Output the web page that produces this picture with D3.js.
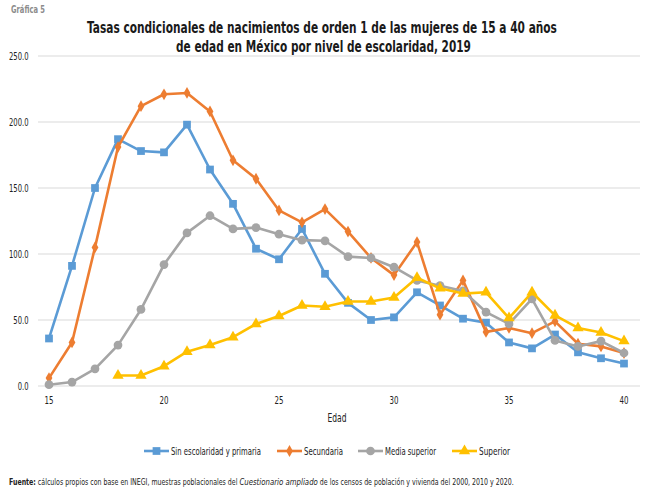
<!DOCTYPE html>
<html><head><meta charset="utf-8">
<script src="https://cdn.jsdelivr.net/npm/d3@7"></script>
<style>
body{margin:0;background:#fff;}
svg{display:block;font-family:"DejaVu Sans Condensed","Liberation Sans Narrow","Liberation Sans",sans-serif;}
</style></head>
<body><svg id="c" width="650" height="488"></svg>
<script>
const ages = d3.range(15, 41);
const yTicks = [0, 50, 100, 150, 200, 250];
const xTicks = [15, 20, 25, 30, 35, 40];
const seriesNames = ["Sin escolaridad y primaria", "Secundaria", "Media superior", "Superior"];
const sinEscolaridad = [36, 91, 150, 187, 178, 177, 198, 164, 138, 104, 96, 119, 85, 63, 50, 52, 71, 61, 51, 48, 33, 28.5, 39, 25.5, 21, 17];
const secundaria = [6, 33, 105, 181, 212, 221, 222, 208, 171, 157, 133, 124, 134, 117, 97, 84, 109, 54, 80, 41, 44, 40, 49, 32, 30, 25];
const mediaSuperior = [1, 3, 13, 31, 58, 92, 116, 129, 119, 120, 115, 110.5, 110, 98, 97, 90, 80, 76, 72, 56, 47, 66, 34.5, 30, 34, 25];
const superior = [null, null, null, 8, 8, 15, 26, 31, 37, 47, 53, 61, 60, 64, 64, 67, 82, 74, 70, 71, 51.5, 71, 53.5, 44, 40.5, 34];
const colors = ["#5B9BD5", "#ED7D31", "#A5A5A5", "#FFC000"];
const symbols = [d3.symbolSquare, d3.symbolDiamond, d3.symbolCircle, d3.symbolTriangle];
const symSizes = [60, 40, 60, 55];

const svg = d3.select("#c");
const x = d3.scaleLinear().domain([15, 40]).range([49, 624]);
const y = d3.scaleLinear().domain([0, 250]).range([386, 56]);

// text helper: places text at (px,py) and squeezes it horizontally to a target width
function fitText(parent, px, py, anchor, width, size, build) {
  const g = parent.append("g").attr("transform", `translate(${px},${py})`);
  const t = g.append("text").attr("text-anchor", anchor).attr("font-size", size);
  build(t);
  const w = t.node().getComputedTextLength();
  if (w > 0) g.attr("transform", `translate(${px},${py}) scale(${width / w},1)`);
  return t;
}

fitText(svg, 11, 13, "start", 34, 11, t => t.attr("fill", "#8c8c8c").attr("font-weight", "bold").text("Gráfica 5"));
fitText(svg, 322, 33, "middle", 470, 16, t => t.attr("font-weight", "bold").attr("fill", "#1a1a1a")
  .text("Tasas condicionales de nacimientos de orden 1 de las mujeres de 15 a 40 años"));
fitText(svg, 323.5, 51.5, "middle", 295, 16, t => t.attr("font-weight", "bold").attr("fill", "#1a1a1a")
  .text("de edad en México por nivel de escolaridad, 2019"));

// grid
svg.append("g").selectAll("line").data(yTicks).join("line")
  .attr("x1", 38).attr("x2", 640).attr("y1", d => y(d)).attr("y2", d => y(d))
  .attr("stroke", "#d9d9d9").attr("stroke-width", 1);

// y tick labels
const fmt = d3.format(".1f");
yTicks.forEach(v => {
  const s = fmt(v);
  const w = (s.length - 1) * 4.4 + 2;
  fitText(svg, 28.5, y(v) + 3.8, "end", w, 11, t => t.attr("fill", "#222").text(s));
});
// x tick labels
xTicks.forEach(v => {
  const s = String(v);
  fitText(svg, x(v), 403.5, "middle", s.length * 4.5, 11, t => t.attr("fill", "#222").text(s));
});
fitText(svg, 337, 421.5, "middle", 19, 12, t => t.attr("fill", "#222").text("Edad"));

const allSeries = [sinEscolaridad, secundaria, mediaSuperior, superior];
const line = d3.line().defined(d => d.v != null).x(d => x(d.a)).y(d => y(d.v));
allSeries.forEach((s, i) => {
  const pts = ages.map((a, j) => ({a: a, v: s[j]}));
  svg.append("path").datum(pts).attr("d", line).attr("fill", "none")
    .attr("stroke", colors[i]).attr("stroke-width", 2.6).attr("stroke-linejoin", "round");
  svg.append("g").selectAll("path").data(pts.filter(d => d.v != null)).join("path")
    .attr("transform", d => `translate(${x(d.a)},${y(d.v)})`)
    .attr("d", d3.symbol().type(symbols[i]).size(symSizes[i]))
    .attr("fill", colors[i]);
});

// legend
const legX = [144, 277, 358, 452];
const legTextW = [90, 39, 51, 31];
seriesNames.forEach((n, i) => {
  const g = svg.append("g").attr("transform", `translate(${legX[i]},451)`);
  g.append("line").attr("x1", 0).attr("x2", 25).attr("stroke", colors[i]).attr("stroke-width", 2.6);
  g.append("path").attr("transform", "translate(12.5,0)")
    .attr("d", d3.symbol().type(symbols[i]).size(symSizes[i])).attr("fill", colors[i]);
  fitText(g, 27, 4, "start", legTextW[i], 11, t => t.attr("fill", "#222").text(n));
});

fitText(svg, 9, 485, "start", 505, 9.5, ft => {
  ft.attr("fill", "#222");
  ft.append("tspan").attr("font-weight", "bold").text("Fuente:");
  ft.append("tspan").text(" cálculos propios con base en INEGI, muestras poblacionales del ");
  ft.append("tspan").attr("font-style", "italic").attr("font-family", "DejaVu Sans, sans-serif").text("Cuestionario ampliado");
  ft.append("tspan").text(" de los censos de población y vivienda del 2000, 2010 y 2020.");
});
</script></body></html>
